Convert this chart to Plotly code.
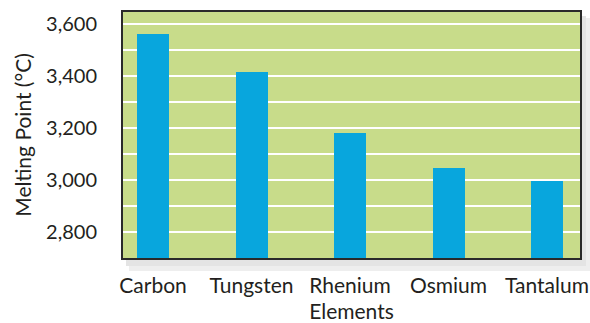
import plotly.graph_objects as go

# Melting points of the most heat-resistant elements
elements = ["Carbon", "Tungsten", "Rhenium", "Osmium", "Tantalum"]
melting_c = [3560, 3415, 3180, 3045, 2996]
y_ticks = [2800, 3000, 3200, 3400, 3600]
y_tick_text = ["2,800", "3,000", "3,200", "3,400", "3,600"]

FONT = "Lato"
INK = "#231f20"
GREEN = "#c8dc8a"
BLUE = "#08a6dd"

positions = list(range(len(elements)))

fig = go.Figure(
    go.Bar(
        x=positions,
        y=melting_c,
        width=0.325,
        marker=dict(color=BLUE, line=dict(width=0)),
        hoverinfo="skip",
    )
)

plot_w, plot_h = 457, 246  # plot-area size in pixels, used for the drop shadow offsets

fig.update_layout(
    width=590,
    height=323,
    margin=dict(l=123, r=10, t=12, b=65),
    paper_bgcolor="white",
    plot_bgcolor="rgba(0,0,0,0)",
    font=dict(family=FONT, size=20, color=INK),
    showlegend=False,
    bargap=0,
    shapes=[
        # soft drop shadow to the right and below the plot panel
        dict(type="rect", xref="paper", yref="paper", layer="below",
             x0=6 / plot_w, x1=1 + 10 / plot_w, y0=-13 / plot_h, y1=1 - 6 / plot_h,
             fillcolor="#eeeeee", line=dict(width=0)),
        dict(type="rect", xref="paper", yref="paper", layer="below",
             x0=3 / plot_w, x1=1 + 6 / plot_w, y0=-8 / plot_h, y1=1 - 4 / plot_h,
             fillcolor="#e4e4e4", line=dict(width=0)),
        # green panel
        dict(type="rect", xref="paper", yref="paper", layer="below",
             x0=0, x1=1, y0=0, y1=1,
             fillcolor=GREEN, line=dict(width=0)),
    ],
)

fig.update_xaxes(
    range=[-0.305, 4.335],
    automargin=False,
    tickmode="array",
    tickvals=positions,
    ticktext=elements,
    showgrid=False,
    zeroline=False,
    showline=True,
    mirror=True,
    linecolor="#2a2a2a",
    linewidth=2,
    ticks="",
    ticklabelstandoff=8,
    tickfont=dict(family=FONT, size=21, color=INK),
    title=dict(text="Elements", font=dict(family=FONT, size=21, color=INK), standoff=10),
)

fig.update_yaxes(
    range=[2700, 3646],
    automargin=False,
    tickmode="array",
    tickvals=y_ticks,
    ticktext=y_tick_text,
    showgrid=True,
    gridcolor="white",
    gridwidth=2,
    minor=dict(dtick=100, tick0=2700, showgrid=True, gridcolor="white", gridwidth=2),
    zeroline=False,
    showline=True,
    mirror=True,
    linecolor="#2a2a2a",
    linewidth=2,
    ticks="",
    ticklabelstandoff=20,
    tickfont=dict(family=FONT, size=20, color=INK),
    title=dict(text="Melting Point (°C)", font=dict(family=FONT, size=21, color=INK), standoff=9),
)

fig.write_html("out.html")
